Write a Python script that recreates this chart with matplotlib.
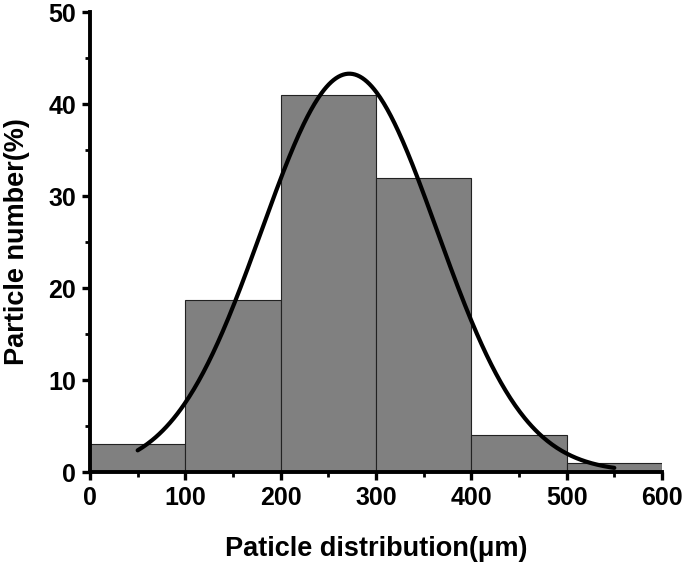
import numpy as np
import matplotlib
matplotlib.use("Agg")
import matplotlib.pyplot as plt
from matplotlib.ticker import MultipleLocator

plt.rcParams['font.family'] = ['Liberation Sans', 'DejaVu Sans']

bin_edges = [0, 100, 200, 300, 400, 500, 600]
bin_values = [3.0, 18.7, 41.0, 32.0, 4.0, 1.0]
# Gaussian fit curve parameters
fit_center = 272
fit_sigma = 92
fit_amplitude = 43.3
fit_range = [50, 550]
x_ticks = [0, 100, 200, 300, 400, 500, 600]
y_ticks = [0, 10, 20, 30, 40, 50]

fig = plt.figure(figsize=(6.85, 5.63), dpi=100)
ax = fig.add_axes([0.1314, 0.1616, 0.835, 0.817])

lefts = bin_edges[:-1]
widths = np.diff(bin_edges)
ax.bar(lefts, bin_values, width=widths, align='edge', color='#808080',
       edgecolor='#222222', linewidth=0.8, zorder=2)

xf = np.linspace(fit_range[0], fit_range[1], 400)
yf = fit_amplitude * np.exp(-(xf - fit_center) ** 2 / (2 * fit_sigma ** 2))
ax.plot(xf, yf, color='black', lw=3, zorder=3, solid_capstyle='round')

ax.set_xlim(0, 600)
ax.set_ylim(0, 50)
ax.set_xticks(x_ticks)
ax.set_yticks(y_ticks)
ax.xaxis.set_minor_locator(MultipleLocator(50))
ax.yaxis.set_minor_locator(MultipleLocator(5))

for s in ['top', 'right']:
    ax.spines[s].set_visible(False)
for s in ['left', 'bottom']:
    ax.spines[s].set_linewidth(2.8)
    ax.spines[s].set_zorder(4)

ax.tick_params(which='major', direction='out', length=6, width=2.4, labelsize=18, pad=4)
ax.tick_params(which='minor', direction='out', length=3.5, width=2)
for lab in ax.get_xticklabels() + ax.get_yticklabels():
    lab.set_fontweight('bold')

ax.set_xlabel('Paticle distribution(μm)', fontsize=19.5, fontweight='bold', labelpad=19)
ax.set_ylabel('Particle number(%)', fontsize=19.5, fontweight='bold', labelpad=13)

fig.savefig('out.png', dpi=100)
